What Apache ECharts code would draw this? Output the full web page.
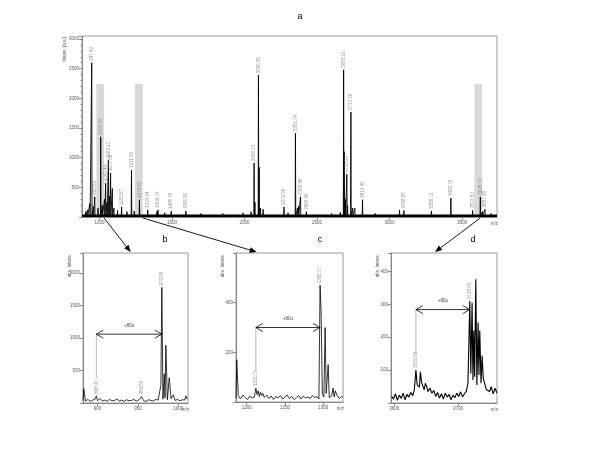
<!DOCTYPE html>
<html><head><meta charset="utf-8">
<script src="https://cdn.jsdelivr.net/npm/echarts@6/dist/echarts.min.js"></script>
<style>html,body{margin:0;padding:0;background:#fff}#c{width:600px;height:450px}</style>
</head><body><div id="c"></div>
<script>
// ---------- main spectrum (a) ----------
const mainXTicks = [1000, 1500, 2000, 2500, 3000, 3500];
const mainRange = [880, 3740];
const mainYMax = 3050;
const mainBase = 22;
const mainPeakMz  = [905, 918, 934, 947, 958, 968, 990, 1009, 1020, 1035, 1043, 1052, 1062, 1070, 1077, 1089, 1100, 1125, 1153, 1190, 1221, 1240, 1276, 1333, 1395, 1404, 1450, 1495, 1596, 1700, 1850, 1990, 2045, 2066, 2072, 2096, 2101, 2110, 2128, 2272, 2300, 2351, 2365, 2372, 2386, 2426, 2600, 2660, 2683, 2687, 2695, 2705, 2710, 2733, 2745, 2760, 2813, 2900, 3068, 3098, 3288, 3422, 3572, 3625, 3640, 3657, 3700];
const mainPeakInt = [90, 120, 230, 2600, 180, 340, 150, 1350, 200, 300, 570, 250, 960, 350, 740, 480, 150, 110, 170, 90, 790, 100, 290, 120, 90, 120, 70, 100, 100, 60, 60, 70, 90, 910, 250, 2390, 840, 150, 130, 170, 70, 1410, 150, 180, 340, 90, 60, 80, 2480, 1100, 300, 720, 200, 1770, 150, 150, 290, 60, 120, 110, 100, 320, 110, 340, 90, 130, 60];
const mainPeakLabel = ['', '', '', '947.43', '', '968.59', '', '1009.52', '', '', '1043.48', '', '1062.17', '', '1077.58', '', '', '', '1153.57', '', '1221.60', '', '1276.62', '1333.64', '', '1404.76', '', '1495.76', '1596.81', '', '', '', '', '2066.03', '', '2096.25', '', '', '', '2272.98', '', '2351.74', '', '', '2386.48', '2426.99', '', '', '2683.31', '', '', '2705.29', '', '2733.39', '', '', '2813.40', '', '', '3098.55', '3288.71', '3422.76', '3572.83', '3625.70', '', '3657.68', ''];
const shadeStart = [979, 1244, 3584];
const shadeEnd   = [1032, 1299, 3638];
const shadeTop = 2240;

// ---------- inset b ----------
const bXTicks = [900, 950, 1000];
const bRange = [882, 1012];
const bYMax = 2310;
const bPeakMz  = [883, 898.5, 903, 954.6, 978.4, 979.6, 982.6, 984.6, 988.8, 993.8, 1009.4];
const bPeakInt = [220, 110, 70, 100, 270, 1780, 450, 890, 390, 125, 110];
const bPeakLabel = ['', '898.47', '', '954.56', '', '979.58', '', '', '', '', ''];
const bNoiseMz  = [882, 885, 888, 891, 894, 897, 900, 906, 909, 912, 915, 918, 921, 924, 927, 930, 933, 936, 939, 942, 945, 948, 951, 957, 960, 963, 966, 969, 972, 975, 977, 981, 983.6, 986.5, 991, 996, 999, 1002, 1005, 1008, 1011];
const bNoiseInt = [40, 30, 55, 25, 45, 60, 35, 30, 45, 25, 55, 35, 40, 60, 30, 45, 25, 50, 35, 40, 55, 30, 45, 35, 25, 50, 40, 30, 55, 45, 70, 60, 80, 50, 65, 40, 55, 35, 50, 45, 60];
const bArrow = [898.5, 979.6, 1060];

// ---------- inset c ----------
const cXTicks = [1200, 1250, 1300];
const cRange = [1186, 1326];
const cYMax = 600;
const cPeakMz  = [1187, 1212, 1215, 1218, 1221, 1296, 1297.3, 1302.6, 1306.6, 1313, 1316];
const cPeakInt = [170, 56, 45, 40, 35, 470, 370, 300, 150, 56, 45];
const cPeakLabel = ['', '1211.73', '', '', '', '1295.77', '', '', '', '', ''];
const cNoiseMz  = [1186, 1189, 1192, 1195, 1198, 1201, 1204, 1207, 1210, 1213.5, 1216.5, 1219.5, 1223, 1226, 1229, 1232, 1235, 1238, 1241, 1244, 1247, 1250, 1253, 1256, 1259, 1262, 1265, 1268, 1271, 1274, 1277, 1280, 1283, 1286, 1289, 1292, 1294.5, 1299, 1301, 1304, 1308, 1311, 1314.5, 1318, 1321, 1324, 1326];
const cNoiseInt = [15, 25, 12, 28, 18, 10, 24, 16, 20, 30, 22, 26, 18, 28, 14, 24, 10, 22, 16, 26, 12, 20, 28, 14, 22, 10, 18, 26, 12, 24, 16, 20, 14, 26, 18, 22, 12, 30, 20, 35, 18, 24, 20, 28, 14, 22, 18];
const cArrow = [1212, 1296, 300];

// ---------- inset d ----------
const dXTicks = [3600, 3700];
const dRange = [3595, 3761];
const dYMax = 456;
const dPeakMz  = [3634, 3638, 3641, 3645.6, 3648.8, 3717, 3718.4, 3722, 3724.7, 3727.8, 3731.4, 3734, 3737.7, 3742, 3747];
const dPeakInt = [100, 60, 95, 67, 60, 183, 310, 305, 220, 376, 245, 220, 144, 76, 46];
const dPeakLabel = ['3633.69', '', '', '', '', '', '3718.63', '', '', '', '', '', '', '', ''];
const dNoiseMz  = [3596, 3599, 3602, 3605, 3608, 3611, 3614, 3617, 3620, 3623, 3626, 3629, 3631.5, 3636, 3639.5, 3643, 3647, 3650.5, 3653, 3656, 3659, 3662, 3665, 3668, 3671, 3674, 3677, 3680, 3683, 3686, 3689, 3692, 3695, 3698, 3701, 3704, 3707, 3710, 3713, 3715.5, 3720, 3723.3, 3726, 3729.5, 3732.7, 3736, 3739.5, 3744.5, 3749.5, 3752, 3755, 3758, 3761];
const dNoiseInt = [20, 12, 28, 8, 24, 14, 30, 10, 26, 18, 32, 22, 40, 55, 48, 62, 40, 52, 35, 45, 30, 38, 20, 32, 15, 28, 12, 30, 18, 26, 10, 24, 16, 30, 20, 34, 18, 28, 36, 60, 90, 70, 80, 55, 85, 60, 75, 40, 35, 50, 28, 45, 30];
const dArrow = [3634, 3718.4, 284];

// ---------- layout ----------
const FONT = 'Liberation Sans, Arial, sans-serif';
const grids = [
  {left: 82, top: 36, width: 415, height: 181},
  {left: 83, top: 253, width: 105, height: 150},
  {left: 236, top: 253, width: 107, height: 149},
  {left: 391, top: 253, width: 106, height: 150}
];

function merge(noiseMz, noiseInt, peakMz, peakInt, delta, base, range) {
  const pts = [];
  if (range) { pts.push([range[0], base]); pts.push([range[1], base]); }
  noiseMz.forEach((m, i) => pts.push([m, noiseInt[i]]));
  peakMz.forEach((m, i) => {
    if (delta) { pts.push([m - delta, base]); pts.push([m + delta, base]); }
    pts.push([m, peakInt[i]]);
  });
  pts.sort((a, b) => a[0] - b[0]);
  return pts;
}
function labelPts(mz, it, lab) {
  const out = [];
  mz.forEach((m, i) => { if (lab[i]) out.push([m, it[i], lab[i]]); });
  return out;
}
function xAxisDef(gi, range, ticks) {
  return {
    type: 'value', gridIndex: gi, min: range[0], max: range[1],
    axisLine: {show: true, lineStyle: {color: '#888', width: 1}},
    axisTick: {show: true, length: 3, customValues: ticks, lineStyle: {color: '#888'}},
    axisLabel: {customValues: ticks, fontSize: 4.5, color: '#555', fontFamily: FONT, margin: 3,
      formatter: v => String(v)},
    splitLine: {show: false}
  };
}
function yAxisDef(gi, max, interval, minor) {
  return {
    type: 'value', gridIndex: gi, min: 0, max: max, interval: interval,
    axisLine: {show: true, lineStyle: {color: '#888', width: 1}},
    axisTick: {show: true, length: 3, lineStyle: {color: '#888'}},
    minorTick: {show: !!minor, splitNumber: 5, length: 1.5, lineStyle: {color: '#888'}},
    axisLabel: {fontSize: 4.5, color: '#555', fontFamily: FONT, margin: 3,
      formatter: v => (v > 0 && v % interval === 0 && v < max) ? String(v) : ''},
    splitLine: {show: false}
  };
}
function specSeries(gi, data, w) {
  return {type: 'line', xAxisIndex: gi, yAxisIndex: gi, data: data, showSymbol: false,
    symbol: 'none', lineStyle: {color: '#000', width: w}, z: 3, animation: false, silent: true};
}
function labelSeries(gi, data) {
  return {type: 'scatter', xAxisIndex: gi, yAxisIndex: gi, data: data, symbolSize: 0, z: 4,
    silent: true, animation: false,
    label: {show: true, rotate: 90, position: 'top', distance: 2, align: 'left', verticalAlign: 'middle',
      fontSize: 4.5, color: '#777', fontFamily: FONT, formatter: p => p.data[2]}};
}

const option = {
  backgroundColor: '#fff',
  animation: false,
  grid: grids.map(g => Object.assign({show: true, borderColor: '#999', borderWidth: 1, outerBoundsMode: 'none', containLabel: false}, g)),
  xAxis: [xAxisDef(0, mainRange, mainXTicks), xAxisDef(1, bRange, bXTicks), xAxisDef(2, cRange, cXTicks), xAxisDef(3, dRange, dXTicks)],
  yAxis: [yAxisDef(0, mainYMax, 500, true), yAxisDef(1, bYMax, 500, false), yAxisDef(2, cYMax, 200, false), yAxisDef(3, dYMax, 100, false)],
  series: [
    {type: 'line', xAxisIndex: 0, yAxisIndex: 0, data: [], z: 1, silent: true,
      markArea: {silent: true, itemStyle: {color: '#d9d9d9'},
        data: shadeStart.map((s, i) => [{xAxis: s, yAxis: 0}, {xAxis: shadeEnd[i], yAxis: shadeTop}])}},
    {type: 'line', xAxisIndex: 0, yAxisIndex: 0, data: [[mainRange[0], mainBase], [mainRange[1], mainBase]],
      showSymbol: false, symbol: 'none', lineStyle: {color: '#000', width: 2.5}, z: 2, silent: true},
    specSeries(0, merge([], [], mainPeakMz, mainPeakInt, 2, mainBase, mainRange), 0.9),
    labelSeries(0, labelPts(mainPeakMz, mainPeakInt, mainPeakLabel)),
    specSeries(1, merge(bNoiseMz, bNoiseInt, bPeakMz, bPeakInt, 0, 0, null), 0.8),
    labelSeries(1, labelPts(bPeakMz, bPeakInt, bPeakLabel)),
    specSeries(2, merge(cNoiseMz, cNoiseInt, cPeakMz, cPeakInt, 0, 0, null), 0.8),
    labelSeries(2, labelPts(cPeakMz, cPeakInt, cPeakLabel)),
    specSeries(3, merge(dNoiseMz, dNoiseInt, dPeakMz, dPeakInt, 0, 0, null), 1.1),
    labelSeries(3, labelPts(dPeakMz, dPeakInt, dPeakLabel))
  ]
};

const chart = echarts.init(document.getElementById('c'), null, {renderer: 'canvas'});
chart.setOption(option);

// ---------- annotations computed from axes ----------
const P = (gi, x, y) => chart.convertToPixel({xAxisIndex: gi, yAxisIndex: gi}, [x, y]);
const G = [];
function arrow(p0, p1) {
  const dx = p1[0] - p0[0], dy = p1[1] - p0[1], L = Math.hypot(dx, dy);
  const ux = dx / L, uy = dy / L, al = 7, aw = 2.8;
  const bx = p1[0] - ux * al, by = p1[1] - uy * al;
  G.push({type: 'line', shape: {x1: p0[0], y1: p0[1], x2: bx, y2: by}, style: {stroke: '#000', lineWidth: 0.9}, z: 10});
  G.push({type: 'polygon', shape: {points: [[p1[0], p1[1]], [bx - uy * aw, by + ux * aw], [bx + uy * aw, by - ux * aw]]}, style: {fill: '#000'}, z: 10});
}
const arrowFromMz = [1032, 1299, 3625];
const arrowToMz = [941, 1213, 3664];
const insetIdx = [1, 2, 3];
const insetMaxes = [bYMax, cYMax, dYMax];
arrowFromMz.forEach((m, i) => {
  const p0 = P(0, m, 0);
  const p1 = P(insetIdx[i], arrowToMz[i], insetMaxes[i]);
  arrow([p0[0], p0[1] + 1], [p1[0], p1[1] - 1]);
});

function doubleArrow(gi, a, firstPeakInt, text) {
  const l = P(gi, a[0], a[2]), r = P(gi, a[1], a[2]);
  G.push({type: 'line', shape: {x1: l[0], y1: l[1], x2: r[0], y2: r[1]}, style: {stroke: '#000', lineWidth: 0.8}, z: 10});
  G.push({type: 'polyline', shape: {points: [[l[0] + 7, l[1] - 4], [l[0], l[1]], [l[0] + 7, l[1] + 4]]}, style: {stroke: '#000', lineWidth: 0.8, fill: null}, z: 10});
  G.push({type: 'polyline', shape: {points: [[r[0] - 7, r[1] - 4], [r[0], r[1]], [r[0] - 7, r[1] + 4]]}, style: {stroke: '#000', lineWidth: 0.8, fill: null}, z: 10});
  const pk = P(gi, a[0], firstPeakInt);
  G.push({type: 'line', shape: {x1: l[0], y1: l[1], x2: l[0], y2: pk[1] - 17}, style: {stroke: '#888', lineWidth: 0.6}, z: 9});
  G.push({type: 'text', x: (l[0] + r[0]) / 2, y: l[1] - 6, style: {text: text, fontSize: 4.5, fill: '#444', fontFamily: FONT, align: 'center', verticalAlign: 'bottom'}, z: 10});
}
doubleArrow(1, bArrow, bPeakInt[1], '+80u');
doubleArrow(2, cArrow, cPeakInt[1], '+80u');
doubleArrow(3, dArrow, dPeakInt[0], '+80u');

// panel letters and axis names
const letters = [['a', 300, 17], ['b', 165, 240], ['c', 320, 240], ['d', 473, 240]];
letters.forEach(t => G.push({type: 'text', x: t[1], y: t[2], style: {text: t[0], fontSize: 9, fill: '#000', fontFamily: FONT, align: 'center', verticalAlign: 'middle'}}));
grids.forEach((g, i) => {
  G.push({type: 'text', x: g.left + g.width + 1, y: g.top + g.height + 4, style: {text: 'm/z', fontSize: 4.5, fill: '#555', fontFamily: FONT, align: 'right', verticalAlign: 'top'}});
  G.push({type: 'text', x: g.left - (i === 0 ? 17 : 13), y: g.top + 1, rotation: Math.PI / 2,
    style: {text: i === 0 ? 'Intens. [a.u.]' : 'abs. Intens.', fontSize: 4.5, fill: '#555', fontFamily: FONT, align: 'right', verticalAlign: 'middle'}});
});
chart.setOption({graphic: {elements: G}});
</script>
</body></html>
